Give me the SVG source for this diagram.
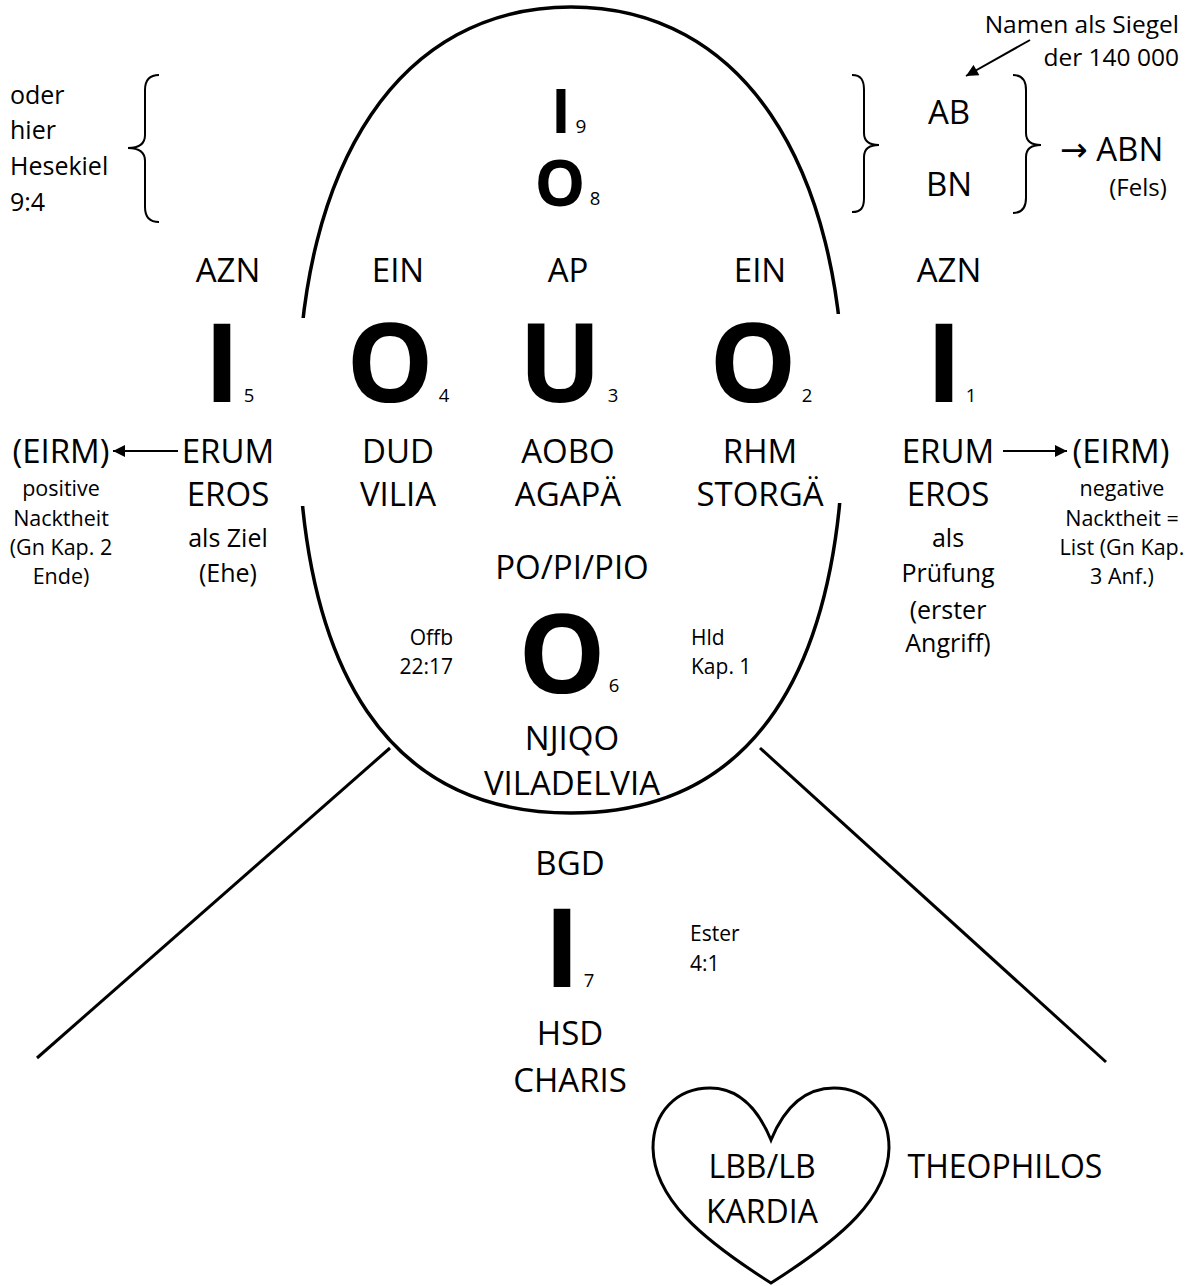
<svg xmlns="http://www.w3.org/2000/svg" width="1191" height="1286" viewBox="0 0 1191 1286">
<style>
text{font-family:"Open Sans","Noto Sans","DejaVu Sans",sans-serif;fill:#000}
.m{font-size:33px;text-anchor:middle}
.n{font-size:25px;text-anchor:middle}
.s{font-size:21.5px;text-anchor:middle}
.r{font-size:21px}
.big{font-size:110px;font-weight:700;text-anchor:middle}
.sub{font-size:18.5px;text-anchor:middle}
.ln{fill:none;stroke:#000;stroke-width:3}
</style>
<defs>
<marker id="ah" viewBox="0 0 10 10" refX="10" refY="5" markerWidth="7" markerHeight="6" orient="auto" markerUnits="strokeWidth"><path d="M0,0 L10,5 L0,10 Z" fill="#000"/></marker>
<mask id="gaps"><rect x="0" y="0" width="1191" height="1286" fill="#fff"/><rect x="270" y="318" width="60" height="188" fill="#000"/><rect x="815" y="314" width="60" height="189" fill="#000"/></mask>
</defs>
<rect width="1191" height="1286" fill="#fff"/>
<g id="head">
<path class="ln" style="stroke-width:3.5" mask="url(#gaps)" d="M571,7 C740,7 844,160 844,410 C844,676 751,813 571,813 C391,813 298,676 298,410 C298,160 402,7 571,7 Z"/>
</g>
<g id="lines">
<line class="ln" x1="390" y1="748" x2="37" y2="1058"/>
<line class="ln" x1="760" y1="748" x2="1106" y2="1062"/>
</g>
<g id="connectors">
<line class="ln" style="stroke-width:2" x1="1030" y1="40" x2="966" y2="76" marker-end="url(#ah)"/>
<line class="ln" style="stroke-width:2" x1="178" y1="451" x2="113" y2="451" marker-end="url(#ah)"/>
<line class="ln" style="stroke-width:2" x1="1003" y1="451" x2="1067" y2="451" marker-end="url(#ah)"/>
</g>
<g id="note-hesekiel">
<text x="10" y="104" style="font-size:25px">oder</text>
<text x="10" y="139" style="font-size:25px">hier</text>
<text x="10" y="175" style="font-size:25px">Hesekiel</text>
<text x="10" y="211" style="font-size:25px">9:4</text>
<path class="ln" style="stroke-width:2" d="M159,75 C150,75 145,80 145,90 L145,135 C145,143 140,148 128,148 C140,148 145,153 145,161 L145,207 C145,217 150,222 159,222"/>
</g>
<g id="node-I9">
<text class="big" x="561" y="133" style="font-size:60px">I</text>
<text class="sub" x="581" y="133" style="font-size:19px">9</text>
</g>
<g id="node-O8">
<text class="big" x="560" y="206" style="font-size:64px">O</text>
<text class="sub" x="595" y="205">8</text>
</g>
<g id="node-AB-BN">
<path class="ln" style="stroke-width:2" d="M852,75 C861,75 864,80 864,90 L864,133 C864,141 869,145 879,145 C869,145 864,149 864,157 L864,198 C864,208 861,212 852,212"/>
<text class="m" x="949" y="124">AB</text>
<text class="m" x="949" y="196">BN</text>
<path class="ln" style="stroke-width:2" d="M1013,75 C1022,75 1026,80 1026,90 L1026,133 C1026,141 1031,145 1041,145 C1031,145 1026,149 1026,157 L1026,198 C1026,208 1022,213 1013,213"/>
</g>
<g id="node-ABN">
<text x="1060" y="161" style="font-size:33px">→ ABN</text>
<text x="1138" y="196" style="font-size:24px;text-anchor:middle">(Fels)</text>
</g>
<g id="note-siegel">
<text x="1179" y="33" style="font-size:24.5px;text-anchor:end">Namen als Siegel</text>
<text x="1179" y="66" style="font-size:24.5px;text-anchor:end">der 140 000</text>
</g>
<g id="row-labels">
<text class="m" x="228" y="282">AZN</text>
<text class="m" x="398" y="282">EIN</text>
<text class="m" x="568" y="282">AP</text>
<text class="m" x="760" y="282">EIN</text>
<text class="m" x="949" y="282">AZN</text>
</g>
<g id="node-I5">
<text class="big" x="222" y="402">I</text>
<text class="sub" x="249" y="402">5</text>
<text class="m" x="228" y="463">ERUM</text>
<text class="m" x="228" y="506">EROS</text>
<text class="n" x="228" y="547">als Ziel</text>
<text class="n" x="228" y="582">(Ehe)</text>
</g>
<g id="node-EIRM-left">
<text class="m" x="61" y="463">(EIRM)</text>
<text class="s" x="61" y="496">positive</text>
<text class="s" x="61" y="526">Nacktheit</text>
<text class="s" x="61" y="555">(Gn Kap. 2</text>
<text class="s" x="61" y="584">Ende)</text>
</g>
<g id="node-O4">
<text class="big" x="390" y="402">O</text>
<text class="sub" x="444" y="402">4</text>
<text class="m" x="398" y="463">DUD</text>
<text class="m" x="398" y="506">VILIA</text>
</g>
<g id="node-U3">
<text class="big" x="560" y="402">U</text>
<text class="sub" x="613" y="402">3</text>
<text class="m" x="568" y="463">AOBO</text>
<text class="m" x="568" y="506">AGAPÄ</text>
<text class="m" x="572" y="579">PO/PI/PIO</text>
</g>
<g id="node-O2">
<text class="big" x="753" y="402">O</text>
<text class="sub" x="807" y="402">2</text>
<text class="m" x="760" y="463">RHM</text>
<text class="m" x="760" y="506">STORGÄ</text>
</g>
<g id="node-I1">
<text class="big" x="944" y="402">I</text>
<text class="sub" x="971" y="402">1</text>
<text class="m" x="948" y="463">ERUM</text>
<text class="m" x="948" y="506">EROS</text>
<text class="n" x="948" y="547">als</text>
<text class="n" x="948" y="582">Prüfung</text>
<text class="n" x="948" y="619">(erster</text>
<text class="n" x="948" y="652">Angriff)</text>
</g>
<g id="node-EIRM-right">
<text class="m" x="1121" y="463">(EIRM)</text>
<text class="s" x="1122" y="496">negative</text>
<text class="s" x="1122" y="526">Nacktheit =</text>
<text class="s" x="1122" y="555">List (Gn Kap.</text>
<text class="s" x="1122" y="584">3 Anf.)</text>
</g>
<g id="node-O6">
<text class="r" x="453" y="645" style="text-anchor:end">Offb</text>
<text class="r" x="453" y="674" style="text-anchor:end">22:17</text>
<text class="big" x="562" y="693">O</text>
<text class="sub" x="614" y="692">6</text>
<text class="r" x="691" y="645">Hld</text>
<text class="r" x="691" y="674">Kap. 1</text>
<text class="m" x="572" y="750">NJIQO</text>
<text class="m" x="572" y="795">VILADELVIA</text>
</g>
<g id="node-I7">
<text class="m" x="570" y="875">BGD</text>
<text class="big" x="562" y="987">I</text>
<text class="sub" x="589" y="987">7</text>
<text class="r" x="690" y="941">Ester</text>
<text class="r" x="690" y="971">4:1</text>
<text class="m" x="570" y="1045">HSD</text>
<text class="m" x="570" y="1092">CHARIS</text>
</g>
<g id="node-heart">
<path class="ln" d="M771,1140 C757,1106 737,1088 710,1088 C677,1088 653,1112 653,1148 C654,1198 700,1238 771,1283 C842,1238 888,1198 889,1148 C889,1112 866,1088 834,1088 C806,1088 785,1106 771,1140 Z"/>
<text class="m" x="762" y="1178" style="font-size:32px">LBB/LB</text>
<text class="m" x="762" y="1223" style="font-size:32px">KARDIA</text>
</g>
<g id="node-theophilos">
<text class="m" x="1005" y="1178" style="font-size:32px">THEOPHILOS</text>
</g>
</svg>
